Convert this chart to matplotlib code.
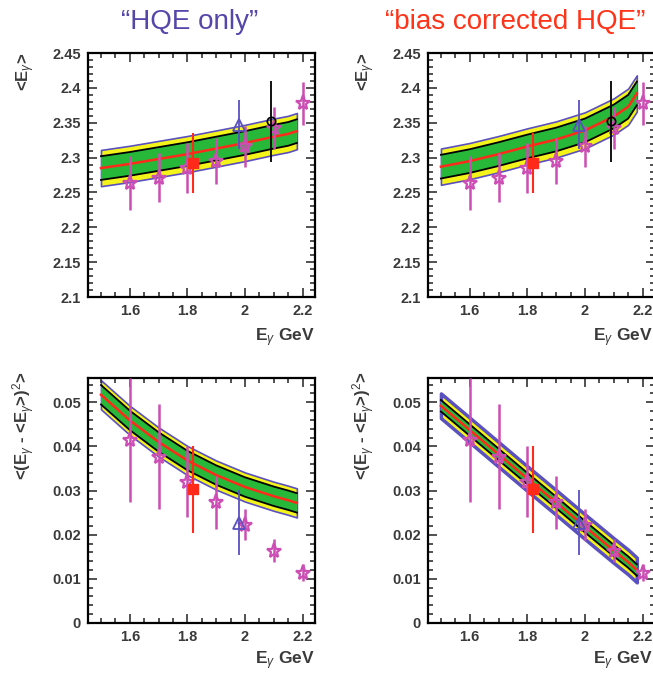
import numpy as np
import matplotlib
matplotlib.use("Agg")
import matplotlib.pyplot as plt
from matplotlib.ticker import MultipleLocator, FuncFormatter

plt.rcParams['font.family'] = ['Liberation Sans', 'DejaVu Sans']
plt.rcParams['mathtext.fontset'] = 'custom'
plt.rcParams['mathtext.rm'] = 'Liberation Sans'
plt.rcParams['mathtext.it'] = 'Liberation Sans:italic'
plt.rcParams['mathtext.bf'] = 'Liberation Sans:bold'

# ---- fitted bands (value of the central curve at sample energies) ----
band_E = [1.5, 1.6, 1.7, 1.8, 1.9, 2.0, 2.1, 2.15, 2.18]
mean_hqe = [2.285, 2.291, 2.298, 2.305, 2.313, 2.321, 2.330, 2.334, 2.338]
mean_bias = [2.287, 2.295, 2.305, 2.316, 2.326, 2.339, 2.359, 2.373, 2.392]
mom2_hqe = [0.0517, 0.0459, 0.0410, 0.0368, 0.0335, 0.0308, 0.0287, 0.0278, 0.0272]
mom2_bias = [0.0492, 0.0437, 0.0382, 0.0327, 0.0273, 0.0218, 0.0164, 0.0138, 0.0120]
# half widths of inner (green) and outer (yellow) bands
mean_w1, mean_w2 = 0.017, 0.026
mom2_hqe_w1, mom2_hqe_w2 = 0.0022, 0.0033
mom2_bias_w1, mom2_bias_w2 = 0.0013, 0.0028

# ---- measurements ----
star_E = [1.6, 1.7, 1.8, 1.9, 2.0, 2.1, 2.2]
star_mean = [2.264, 2.271, 2.285, 2.295, 2.316, 2.343, 2.378]
star_mean_err = [0.039, 0.035, 0.036, 0.033, 0.029, 0.030, 0.031]
star_mom2 = [0.0414, 0.0377, 0.0320, 0.0274, 0.0223, 0.0164, 0.0114]
star_mom2_err = [0.0140, 0.0118, 0.0080, 0.0060, 0.0035, 0.0026, 0.0019]

sq_E, sq_mean, sq_mean_err, sq_mom2, sq_mom2_err = 1.82, 2.292, 0.043, 0.0303, 0.0099
tri_E, tri_mean, tri_mean_err, tri_mom2, tri_mom2_err = 1.98, 2.347, 0.035, 0.0227, 0.0074
circ_E, circ_mean, circ_mean_err = 2.09, 2.352, 0.058

GREEN = '#27b83a'
YELLOW = '#f4f41a'
BLUE = '#5a50c0'
RED = '#ff2a1a'
MAG = '#cc4db4'
GRAY = '#3a3a3a'


def draw_band(ax, center, w1, w2, outline=1.2):
    x = np.array(band_E)
    c = np.array(center)
    ax.fill_between(x, c - w2, c + w2, facecolor=YELLOW, edgecolor=BLUE, lw=outline, zorder=1)
    ax.fill_between(x, c - w1, c + w1, facecolor=GREEN, edgecolor='none', zorder=2)
    ax.plot(x, c + w1, color='black', lw=1.3, zorder=3)
    ax.plot(x, c - w1, color='black', lw=1.3, zorder=3)
    ax.plot(x, c, color=RED, lw=1.8, zorder=4)


def draw_points(ax, ys, yerr, sq, sqe, tri, trie, circ=None, circe=None):
    ax.errorbar(star_E, ys, yerr=yerr, fmt='*', ms=11, mfc='none', mec=MAG, mew=1.6,
                ecolor=MAG, elinewidth=1.8, capsize=0, zorder=6)
    ax.errorbar([sq_E], [sq], yerr=[sqe], fmt='s', ms=7, color=RED, ecolor=RED,
                elinewidth=1.5, capsize=0, zorder=7)
    ax.errorbar([tri_E], [tri], yerr=[trie], fmt='^', ms=8, mfc='none', mec=BLUE, mew=1.3,
                ecolor=BLUE, elinewidth=1.3, capsize=0, zorder=7)
    if circ is not None:
        ax.errorbar([circ_E], [circ], yerr=[circe], fmt='o', ms=6, mfc='none', mec='black',
                    mew=1.2, ecolor='black', elinewidth=1.3, capsize=0, zorder=7)


def style(ax, ylim, ymaj, ymin, ylabel, ylab_y, xlab_x, xlab_y):
    ax.set_xlim(1.455, 2.243)
    ax.set_ylim(*ylim)
    ax.xaxis.set_major_locator(MultipleLocator(0.2))
    ax.xaxis.set_minor_locator(MultipleLocator(0.05))
    ax.yaxis.set_major_locator(MultipleLocator(ymaj))
    ax.yaxis.set_minor_locator(MultipleLocator(ymin))
    fmt = FuncFormatter(lambda v, p: '%g' % round(v, 4))
    ax.xaxis.set_major_formatter(fmt)
    ax.yaxis.set_major_formatter(fmt)
    ax.tick_params(which='both', direction='in', top=True, right=True, width=1.1, color='#222222')
    ax.tick_params(which='major', length=6.5, labelsize=10.5, labelcolor=GRAY, pad=5)
    ax.tick_params(which='minor', length=3.5)
    for lab in ax.get_xticklabels() + ax.get_yticklabels():
        lab.set_fontweight('bold')
    for s in ax.spines.values():
        s.set_linewidth(1.6)
    ax.set_ylabel(ylabel, fontsize=12, fontweight='bold', color=GRAY, loc='top')
    ax.yaxis.set_label_coords(-0.225, ylab_y)
    ax.set_xlabel(r'E$_\gamma$ GeV', fontsize=12.5, fontweight='bold', color=GRAY, loc='right')
    ax.xaxis.set_label_coords(xlab_x, xlab_y)


fig = plt.figure(figsize=(6.53, 6.74), dpi=100)
w, h = 0.3476, 0.362
ax_tl = fig.add_axes([0.1348, 0.5593, w, h])
ax_tr = fig.add_axes([0.6554, 0.5593, w, h])
ax_bl = fig.add_axes([0.1348, 0.0757, w, 0.3635])
ax_br = fig.add_axes([0.6554, 0.0757, w, 0.3635])

mean_label = r'<E$_\gamma$>'
mom2_label = r'<(E$_\gamma$ - <E$_\gamma$>)$^2$>'

draw_band(ax_tl, mean_hqe, mean_w1, mean_w2)
draw_points(ax_tl, star_mean, star_mean_err, sq_mean, sq_mean_err, tri_mean, tri_mean_err,
            circ_mean, circ_mean_err)
style(ax_tl, (2.1, 2.45), 0.05, 0.01, mean_label, 1.0, 1.0, -0.12)

draw_band(ax_tr, mean_bias, mean_w1, mean_w2)
draw_points(ax_tr, star_mean, star_mean_err, sq_mean, sq_mean_err, tri_mean, tri_mean_err,
            circ_mean, circ_mean_err)
style(ax_tr, (2.1, 2.45), 0.05, 0.01, mean_label, 1.0, 0.99, -0.12)

draw_band(ax_bl, mom2_hqe, mom2_hqe_w1, mom2_hqe_w2)
draw_points(ax_bl, star_mom2, star_mom2_err, sq_mom2, sq_mom2_err, tri_mom2, tri_mom2_err)
style(ax_bl, (0, 0.0555), 0.01, 0.002, mom2_label, 1.025, 1.0, -0.108)

draw_band(ax_br, mom2_bias, mom2_bias_w1, mom2_bias_w2, outline=2.5)
draw_points(ax_br, star_mom2, star_mom2_err, sq_mom2, sq_mom2_err, tri_mom2, tri_mom2_err)
style(ax_br, (0, 0.0555), 0.01, 0.002, mom2_label, 1.025, 0.99, -0.108)

fig.text(0.29, 0.957, '\u201cHQE only\u201d', fontsize=20, color='#5546aa',
         ha='center', va='baseline')
fig.text(0.59, 0.957, '\u201cbias corrected HQE\u201d', fontsize=20,
         color='#ff3318', ha='left', va='baseline')

fig.savefig('out.png', dpi=100)
